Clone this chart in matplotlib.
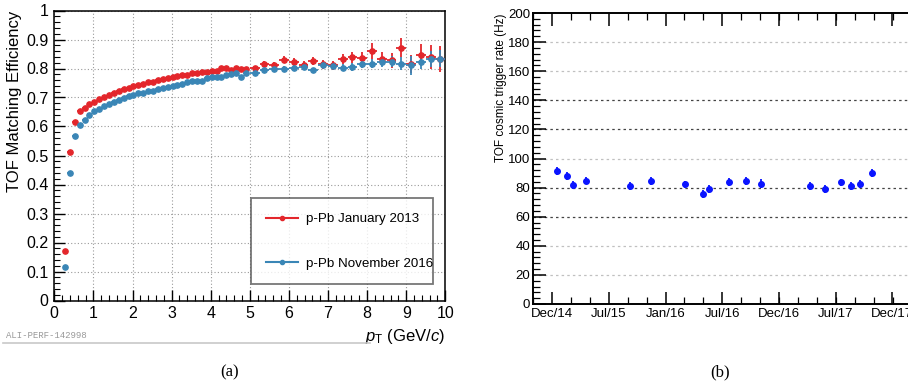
import numpy as np
import matplotlib
matplotlib.use("Agg")
import matplotlib.pyplot as plt
from matplotlib.ticker import MultipleLocator, AutoMinorLocator
from matplotlib.lines import Line2D

plt.rcParams['font.family'] = ['Liberation Sans', 'DejaVu Sans']
plt.rcParams['mathtext.fontset'] = 'custom'
plt.rcParams['mathtext.rm'] = 'Liberation Sans'
plt.rcParams['mathtext.it'] = 'Liberation Sans:italic'

# ---- (a) TOF matching efficiency vs pT ----
pt_low = [0.275, 0.4, 0.525, 0.65, 0.775, 0.9, 1.025, 1.15, 1.275, 1.4,
          1.525, 1.65, 1.775, 1.9, 2.025, 2.15, 2.275, 2.4, 2.525, 2.65,
          2.775, 2.9, 3.025, 3.15, 3.275, 3.4, 3.525, 3.65, 3.775, 3.9,
          4.025, 4.15, 4.275, 4.4, 4.525, 4.65, 4.775, 4.9]
pt_high = [5.125, 5.375, 5.625, 5.875, 6.125, 6.375, 6.625, 6.875, 7.125, 7.375,
           7.625, 7.875, 8.125, 8.375, 8.625, 8.875, 9.125, 9.375, 9.625, 9.875]

eff_2013_low = [0.17, 0.512, 0.614, 0.652, 0.664, 0.676, 0.685, 0.694, 0.702, 0.709,
                0.717, 0.723, 0.729, 0.733, 0.739, 0.743, 0.747, 0.752, 0.755, 0.759,
                0.763, 0.767, 0.770, 0.775, 0.777, 0.779, 0.783, 0.784, 0.788, 0.789,
                0.793, 0.792, 0.801, 0.803, 0.795, 0.802, 0.799, 0.800]
eff_2013_high = [0.802, 0.816, 0.812, 0.831, 0.823, 0.812, 0.826, 0.814, 0.811, 0.833,
                 0.839, 0.835, 0.861, 0.834, 0.829, 0.872, 0.815, 0.845, 0.840, 0.833]
err_2013_high = [0.008, 0.009, 0.010, 0.011, 0.012, 0.013, 0.014, 0.015, 0.016, 0.018,
                 0.019, 0.021, 0.028, 0.024, 0.026, 0.033, 0.030, 0.038, 0.040, 0.045]

eff_2016_low = [0.115, 0.44, 0.566, 0.606, 0.622, 0.640, 0.652, 0.662, 0.671, 0.679,
                0.686, 0.693, 0.699, 0.705, 0.709, 0.714, 0.717, 0.721, 0.724, 0.729,
                0.732, 0.736, 0.739, 0.743, 0.746, 0.752, 0.756, 0.757, 0.757, 0.766,
                0.769, 0.772, 0.772, 0.777, 0.780, 0.783, 0.772, 0.785]
eff_2016_high = [0.786, 0.794, 0.800, 0.800, 0.803, 0.806, 0.794, 0.811, 0.809, 0.803,
                 0.806, 0.817, 0.817, 0.823, 0.823, 0.817, 0.811, 0.823, 0.834, 0.834]
err_2016_high = [0.005, 0.006, 0.006, 0.007, 0.008, 0.008, 0.009, 0.010, 0.011, 0.012,
                 0.013, 0.014, 0.016, 0.017, 0.019, 0.021, 0.033, 0.025, 0.028, 0.030]

# ---- (b) cosmic trigger rate vs time ----
run_dates = ['2015-01-15', '2015-02-19', '2015-03-09', '2015-04-19', '2015-09-08',
             '2015-11-14', '2016-03-05', '2016-04-30', '2016-05-20', '2016-07-24',
             '2016-09-15', '2016-11-03', '2017-04-11', '2017-05-30', '2017-07-20',
             '2017-08-21', '2017-09-19', '2017-10-29']
rate = [91.7, 87.8, 81.8, 84.8, 80.9, 84.6, 82.3, 75.6, 79.0, 83.7,
        84.8, 82.8, 81.1, 79.0, 83.7, 81.1, 82.5, 89.9]
rate_err = [2.8, 2.8, 2.5, 2.5, 2.8, 2.8, 2.5, 2.8, 2.8, 2.8,
            2.8, 2.8, 2.5, 2.8, 2.5, 2.5, 2.8, 2.8]
tick_dates = ['2014-12-31', '2015-07-02', '2016-01-01', '2016-07-02',
              '2016-12-31', '2017-07-02', '2017-12-31']
tick_labels = ['Dec/14', 'Jul/15', 'Jan/16', 'Jul/16', 'Dec/16', 'Jul/17', 'Dec/17']

red = '#e3262b'
blue = '#3a86b6'

fig = plt.figure(figsize=(9.08, 3.92), dpi=100)

# ---------------- panel (a) ----------------
ax1 = fig.add_axes([54.3 / 908, 1 - 300.5 / 392, 391 / 908, 290 / 392])
for pts_l, pts_h, vl, vh, eh, c, lab in [
        (pt_low, pt_high, eff_2013_low, eff_2013_high, err_2013_high, red, 'p-Pb January 2013'),
        (pt_low, pt_high, eff_2016_low, eff_2016_high, err_2016_high, blue, 'p-Pb November 2016')]:
    ax1.errorbar(pts_l, vl, xerr=0.0625, yerr=0.003, fmt='o', ms=3.8, color=c,
                 ecolor=c, elinewidth=1.2, capsize=0, zorder=3)
    ax1.errorbar(pts_h, vh, xerr=0.125, yerr=eh, fmt='o', ms=3.8, color=c,
                 ecolor=c, elinewidth=1.3, capsize=0, zorder=3)
    ax1.plot([], [], '-o', color=c, ms=3, lw=1.5, label=lab)

ax1.set_xlim(0, 10)
ax1.set_ylim(0, 1)
ax1.set_xticks(np.arange(0, 11, 1))
ax1.set_xticklabels([str(i) for i in range(11)])
ax1.xaxis.set_minor_locator(MultipleLocator(0.2))
ax1.set_yticks(np.arange(0, 1.01, 0.1))
ax1.set_yticklabels(['0', '0.1', '0.2', '0.3', '0.4', '0.5', '0.6', '0.7', '0.8', '0.9', '1'])
ax1.yaxis.set_minor_locator(MultipleLocator(0.02))
ax1.tick_params(which='both', direction='in', labelsize=11.5, top=False, right=False)
ax1.tick_params(which='major', length=8, width=1)
ax1.tick_params(which='minor', length=4, width=0.8)
ax1.tick_params(axis='y', pad=4)
ax1.tick_params(axis='x', pad=4)
ax1.grid(True, which='major', linestyle=(0, (1, 2)), color='#9a9a9a', lw=0.8)
ax1.set_axisbelow(True)
for sp in ax1.spines.values():
    sp.set_linewidth(1.1)
ax1.set_ylabel('TOF Matching Efficiency', fontsize=12, loc='top')
ax1.yaxis.set_label_coords(-0.082, 1.0)
ax1.set_xlabel(r'$p_{\mathrm{T}}$ (GeV/$c$)', fontsize=12, loc='right', labelpad=4)

leg = ax1.legend(loc='center', bbox_to_anchor=(0.504, 0.045, 0.465, 0.317), mode='expand',
                 fontsize=9.6, frameon=True, fancybox=False, labelspacing=2.4,
                 handlelength=2.4, handletextpad=0.6, borderpad=1.1, borderaxespad=0)
leg.get_frame().set_edgecolor('#555555')
leg.get_frame().set_linewidth(1.3)

fig.text(6 / 908, 1 - 336 / 392, 'ALI-PERF-142998', family='Liberation Mono',
         fontsize=6.5, color='#999999', va='center', ha='left')
fig.add_artist(Line2D([3 / 908, 370 / 908], [1 - 343 / 392, 1 - 343 / 392],
                      color='#c8c8c8', lw=1.2))

# ---------------- panel (b) ----------------
ax2 = fig.add_axes([533 / 908, 1 - 304 / 392, 382 / 908, 291 / 392])
xd = np.array(run_dates, dtype='datetime64[D]')
ax2.errorbar(xd, rate, yerr=rate_err, fmt='o', ms=4, color='#0a14ff',
             ecolor='#0a14ff', elinewidth=1.3, capsize=0, zorder=3)
td = np.array(tick_dates, dtype='datetime64[D]')
ax2.set_xlim(td[0] - np.timedelta64(61, 'D'), td[0] + np.timedelta64(1170, 'D'))
ax2.set_ylim(0, 200)
ax2.set_xticks(td)
ax2.set_xticklabels(tick_labels)
ax2.xaxis.set_minor_locator(AutoMinorLocator(3))
ax2.yaxis.set_major_locator(MultipleLocator(20))
ax2.yaxis.set_minor_locator(MultipleLocator(4))
ax2.tick_params(which='both', direction='in', labelsize=9.5, top=True, right=False)
ax2.tick_params(which='major', length=9, width=1.1)
ax2.tick_params(which='minor', length=5, width=0.9)
ax2.tick_params(axis='x', pad=3)
ax2.tick_params(axis='y', pad=2)
dark_levels = [60, 80, 120, 140]
for lvl in range(20, 200, 20):
    ax2.axhline(lvl, linestyle=(0, (2, 2.5)), lw=0.9,
                color='#444444' if lvl in dark_levels else '#c0c0c0', zorder=1)
for sp in ax2.spines.values():
    sp.set_linewidth(1.4)
ax2.set_ylabel('TOF cosmic trigger rate (Hz)', fontsize=8.5, loc='top')
ax2.yaxis.set_label_coords(-0.068, 1.0)

# captions
fig.text(230 / 908, 1 - 372 / 392, '(a)', family='Liberation Serif', fontsize=12,
         ha='center', va='center')
fig.text(720 / 908, 1 - 372 / 392, '(b)', family='Liberation Serif', fontsize=12,
         ha='center', va='center')

fig.savefig('out.png', dpi=100)
